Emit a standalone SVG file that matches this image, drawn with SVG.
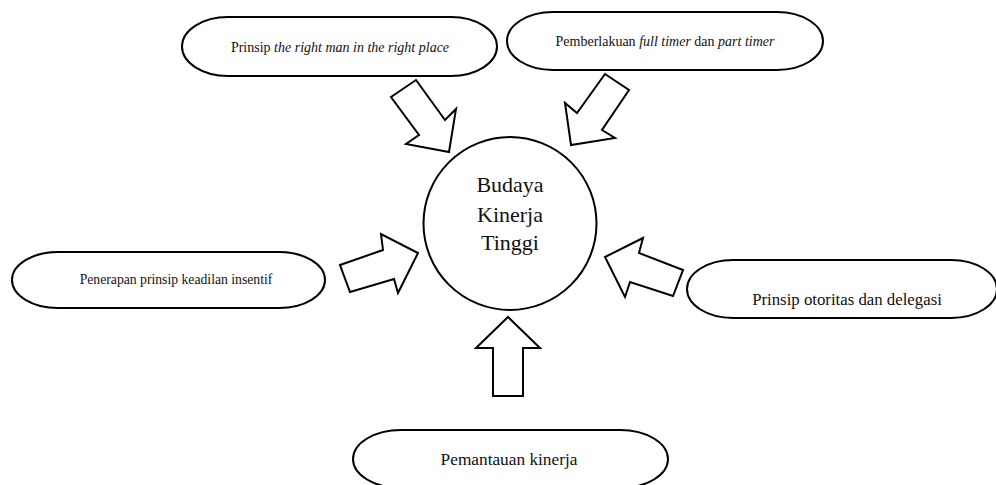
<svg xmlns="http://www.w3.org/2000/svg" width="996" height="485" viewBox="0 0 996 485">
<style>
.shape{fill:#fff;stroke:#000;stroke-width:2;stroke-linejoin:miter}
.arrow{fill:#fff;stroke:#000;stroke-width:2;stroke-linejoin:miter}
text{font-family:"Liberation Serif","Times New Roman",serif;fill:#111;text-anchor:middle}
.it{font-style:italic}
</style>
<rect width="996" height="485" fill="#fff"/>
<g id="center">
<circle class="shape" cx="510" cy="223.5" r="86.5"/>
<text font-size="22"><tspan x="510" y="192">Budaya</tspan><tspan x="510" y="222">Kinerja</tspan><tspan x="510" y="250">Tinggi</tspan></text>
</g>
<g id="n-topleft">
<rect class="shape" x="182" y="17" width="315" height="59" rx="46" ry="29.5"/>
<text x="340" y="52" font-size="14">Prinsip <tspan class="it">the right man in the right place</tspan></text>
</g>
<g id="n-topright">
<rect class="shape" x="507" y="12" width="316" height="58" rx="46" ry="29"/>
<text x="665" y="46" font-size="14">Pemberlakuan <tspan class="it">full timer</tspan> dan <tspan class="it">part timer</tspan></text>
</g>
<g id="n-left">
<rect class="shape" x="12" y="252" width="313" height="56" rx="46" ry="28"/>
<text x="176" y="284" font-size="13.7">Penerapan prinsip keadilan insentif</text>
</g>
<g id="n-right">
<rect class="shape" x="687" y="260" width="310" height="58" rx="46" ry="29"/>
<text x="847" y="305" font-size="16.8">Prinsip otoritas dan delegasi</text>
</g>
<g id="n-bottom">
<rect class="shape" x="353" y="430" width="315" height="58" rx="48" ry="29"/>
<text x="509" y="465" font-size="17.3">Pemantauan kinerja</text>
</g>
<g id="connectors">
<polygon class="arrow" points="391,97 416,80 445,120 456,109 449,152 406,144 419,135"/>
<polygon class="arrow" points="605,74 629,90 602,130 615,138 571,145 565,103 577,113"/>
<polygon class="arrow" points="340,265 383,250 381,234 418,253 398,293 394,279 350,292"/>
<polygon class="arrow" points="683,270 639,253 643,238 605,257 625,297 630,282 673,296"/>
<polygon class="arrow" points="508,317 540,348 523,348 523,396 493,396 493,348 476,348"/>
</g>
</svg>
